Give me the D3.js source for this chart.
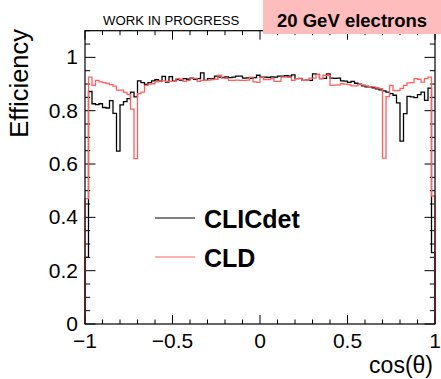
<!DOCTYPE html>
<html><head><meta charset="utf-8">
<script src="https://cdn.jsdelivr.net/npm/d3@7"></script>
<style>body{margin:0;background:#fff}svg{display:block}text{font-family:"Liberation Sans",Arial,Helvetica,sans-serif}</style>
</head><body><svg id="c" width="441" height="379"></svg>
<script>
// 100 bins over cos(theta) in [-1, 1]
const xRange = [-1, 1];
const nBins = 100;
const clicdet = [
0.25,0.872,0.826,0.823,0.826,0.812,0.81,0.838,0.79,0.648,
0.822,0.834,0.845,0.87,0.852,0.912,0.905,0.899,0.905,0.912,
0.916,0.911,0.929,0.907,0.928,0.911,0.917,0.915,0.92,0.918,
0.922,0.918,0.92,0.942,0.914,0.92,0.92,0.93,0.926,0.925,
0.927,0.924,0.926,0.93,0.93,0.922,0.923,0.921,0.924,0.933,
0.926,0.926,0.925,0.927,0.926,0.93,0.93,0.931,0.93,0.934,
0.92,0.921,0.914,0.915,0.914,0.938,0.936,0.92,0.921,0.938,
0.922,0.921,0.922,0.912,0.911,0.906,0.91,0.903,0.9,0.893,
0.889,0.889,0.886,0.882,0.878,0.874,0.87,0.864,0.858,0.829,
0.686,0.789,0.854,0.852,0.849,0.86,0.87,0.839,0.885,0.268
];
const cld = [
0.47,0.926,0.895,0.914,0.908,0.905,0.902,0.898,0.892,0.877,
0.877,0.869,0.861,0.806,0.62,0.864,0.87,0.895,0.9,0.901,
0.908,0.911,0.912,0.91,0.91,0.91,0.92,0.918,0.91,0.914,
0.922,0.921,0.91,0.914,0.914,0.915,0.917,0.918,0.933,0.922,
0.921,0.914,0.914,0.915,0.914,0.914,0.915,0.926,0.908,0.906,
0.926,0.917,0.917,0.92,0.91,0.91,0.926,0.926,0.925,0.914,
0.92,0.92,0.914,0.914,0.922,0.922,0.935,0.92,0.933,0.932,
0.895,0.896,0.897,0.901,0.9,0.898,0.893,0.893,0.9,0.897,
0.893,0.89,0.889,0.886,0.883,0.622,0.853,0.895,0.875,0.875,
0.884,0.895,0.904,0.905,0.92,0.918,0.907,0.92,0.926,0.48
];
const seriesNames = ["CLICdet", "CLD"];
const seriesColors = ["#000000", "#ff5f5f"];
const xTickValues = [-1, -0.5, 0, 0.5, 1];
const xTickLabels = ["\u22121", "\u22120.5", "0", "0.5", "1"];
const yTickValues = [0, 0.2, 0.4, 0.6, 0.8, 1];
const yTickLabels = ["0", "0.2", "0.4", "0.6", "0.8", "1"];
const xTitle = "cos(\u03b8)";
const yTitle = "Efficiency";
const banner = "20 GeV electrons";
const wip = "WORK IN PROGRESS";

const svg = d3.select("#c");
const L = 85, R = 435, T = 30.7, B = 324;
const x = d3.scaleLinear().domain(xRange).range([L, R]);
const y = d3.scaleLinear().domain([0, 1.1]).range([B, T]);
const edges = d3.range(nBins + 1).map(i => xRange[0] + i * (xRange[1] - xRange[0]) / nBins);

// frame ticks (ROOT style, inside, on all sides)
const g = svg.append("g").attr("stroke", "#000").attr("stroke-width", 1).attr("fill", "none");
for (let i = 0; i <= 20; i++) {
  const v = -1 + i * 0.1, major = i % 5 === 0, len = major ? 9 : 4.5;
  g.append("line").attr("x1", x(v)).attr("x2", x(v)).attr("y1", B).attr("y2", B - len);
  g.append("line").attr("x1", x(v)).attr("x2", x(v)).attr("y1", T).attr("y2", T + len);
}
for (let i = 0; i <= 22; i++) {
  const v = i * 0.05, major = i % 4 === 0, len = major ? 10.5 : 5.2;
  g.append("line").attr("y1", y(v)).attr("y2", y(v)).attr("x1", L).attr("x2", L + len);
  g.append("line").attr("y1", y(v)).attr("y2", y(v)).attr("x1", R).attr("x2", R - len);
}

// histograms
function histPath(vals) {
  let d = `M${x(edges[0])},${y(0)}`;
  vals.forEach((v, i) => { d += `V${y(v)}H${x(edges[i + 1])}`; });
  d += `V${y(0)}`;
  return d;
}
[clicdet, cld].forEach((vals, k) => {
  svg.append("path").attr("d", histPath(vals)).attr("fill", "none")
    .attr("stroke", seriesColors[k]).attr("stroke-width", 1.3);
});

// frame
svg.append("rect").attr("x", L).attr("y", T).attr("width", R - L).attr("height", B - T)
  .attr("fill", "none").attr("stroke", "#000").attr("stroke-width", 1.2);

// tick labels
svg.append("g").selectAll("text").data(xTickValues).join("text")
  .attr("x", d => x(d)).attr("y", 348).attr("text-anchor", "middle")
  .attr("font-size", 21).text((d, i) => xTickLabels[i]);
svg.append("g").selectAll("text").data(yTickValues).join("text")
  .attr("x", 78).attr("y", d => y(d) + 7).attr("text-anchor", "end")
  .attr("font-size", 21).text((d, i) => yTickLabels[i]);

// titles
svg.append("text").attr("x", 433).attr("y", 373).attr("text-anchor", "end")
  .attr("font-size", 23).text(xTitle);
svg.append("text").attr("transform", "translate(28,29) rotate(-90)").attr("text-anchor", "end")
  .attr("font-size", 25.5).text(yTitle);

// header
svg.append("text").attr("x", 103).attr("y", 25).attr("font-size", 13.2).text(wip);
svg.append("rect").attr("x", 263).attr("y", 0).attr("width", 178).attr("height", 34).attr("fill", "#ffbcbc");
svg.append("text").attr("x", 277).attr("y", 27).attr("font-size", 18.5).attr("font-weight", "bold").text(banner);

// legend
const legY = [218, 257];
seriesNames.forEach((n, k) => {
  svg.append("line").attr("x1", 155).attr("x2", 195).attr("y1", legY[k]).attr("y2", legY[k])
    .attr("stroke", seriesColors[k]).attr("stroke-width", 1);
  svg.append("text").attr("x", 204).attr("y", legY[k] + 9.5).attr("font-size", 25)
    .attr("font-weight", "bold").text(n);
});
</script></body></html>
